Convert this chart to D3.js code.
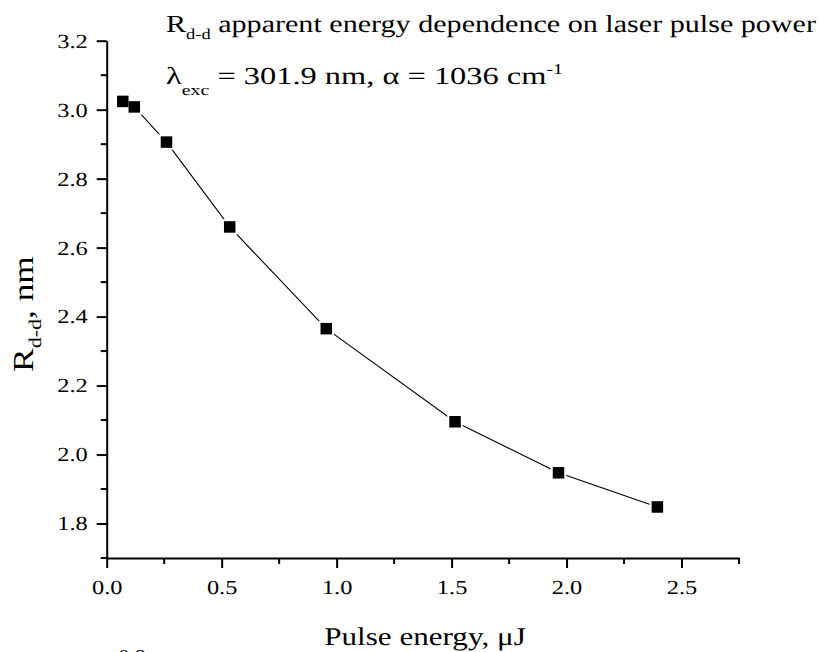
<!DOCTYPE html>
<html>
<head>
<meta charset="utf-8">
<script src="https://cdn.jsdelivr.net/npm/d3@7"></script>
<style>
  html, body { margin: 0; padding: 0; background: #fff; }
  svg { display: block; }
  svg text { font-family: 'Liberation Serif', 'Times New Roman', Times, serif !important; fill: #000; text-rendering: geometricPrecision; }
</style>
</head>
<body>
<svg id="chart" width="823" height="652" font-family="'Liberation Serif', 'Times New Roman', serif"></svg>
<script>
// Data
const pulseEnergy = [0.07, 0.12, 0.26, 0.535, 0.955, 1.515, 1.965, 2.395];
const rdd         = [3.024, 3.008, 2.906, 2.660, 2.365, 2.095, 1.947, 1.848];
const xTicks = [0.0, 0.5, 1.0, 1.5, 2.0, 2.5];
const yTicks = [1.8, 2.0, 2.2, 2.4, 2.6, 2.8, 3.0, 3.2];
const xMinorTicks = [0.25, 0.75, 1.25, 1.75, 2.25, 2.75];
const yMinorTicks = [1.7, 1.9, 2.1, 2.3, 2.5, 2.7, 2.9, 3.1];

const FONT = "'Liberation Serif', 'Times New Roman', Times, serif";
const SX = 1.22; // horizontal glyph stretch seen in the reference text

const svg = d3.select("#chart");
const x0 = 106.7, x1 = 739, yTop = 40.7, yBot = 558;
const x = d3.scaleLinear().domain([0, 2.75]).range([x0, x1]);
const y = d3.scaleLinear().domain([1.7, 3.2]).range([yBot, yTop]);

// Axes
const xAxis = d3.axisBottom(x).tickValues(xTicks).tickFormat(d3.format(".1f")).tickSize(10).tickSizeOuter(0).tickPadding(12);
const yAxis = d3.axisLeft(y).tickValues(yTicks).tickFormat(d3.format(".1f")).tickSize(10).tickSizeOuter(0).tickPadding(9);

const gx = svg.append("g").attr("transform", `translate(0,${yBot})`).call(xAxis);
const gy = svg.append("g").attr("transform", `translate(${x0},0)`).call(yAxis);

[gx, gy].forEach(g => {
  g.attr("font-family", FONT).attr("font-size", 20);
  g.select(".domain").attr("stroke", "#000").attr("stroke-width", 2);
  g.selectAll(".tick line").attr("stroke", "#000").attr("stroke-width", 2);
  g.selectAll(".tick text")
    .style("font-size", "20px")
    .style("font-family", FONT)
    .attr("fill", "#000")
    .each(function() {
      const t = d3.select(this);
      const xa = +t.attr("x") || 0;
      t.attr("x", xa / SX).attr("transform", `scale(${SX},1)`);
    });
});

// Minor ticks
svg.append("g").selectAll("line").data(xMinorTicks).join("line")
  .attr("x1", d => x(d)).attr("x2", d => x(d))
  .attr("y1", yBot).attr("y2", yBot + 6)
  .attr("stroke", "#000").attr("stroke-width", 2);
svg.append("g").selectAll("line").data(yMinorTicks).join("line")
  .attr("y1", d => y(d)).attr("y2", d => y(d))
  .attr("x1", x0).attr("x2", x0 - 6)
  .attr("stroke", "#000").attr("stroke-width", 2);

// Line
const pts = pulseEnergy.map((v, i) => [v, rdd[i]]);
svg.append("path")
  .datum(pts)
  .attr("fill", "none")
  .attr("stroke", "#000")
  .attr("stroke-width", 1.1)
  .attr("d", d3.line().x(d => x(d[0])).y(d => y(d[1])));

// Markers (white halo gives the gap around the symbols)
const ms = 11.5;
svg.append("g").selectAll("rect").data(pts).join("rect")
  .attr("x", d => x(d[0]) - ms / 2 - 2).attr("y", d => y(d[1]) - ms / 2 - 2)
  .attr("width", ms + 4).attr("height", ms + 4)
  .attr("fill", "#fff");
svg.append("g").selectAll("rect").data(pts).join("rect")
  .attr("x", d => x(d[0]) - ms / 2).attr("y", d => y(d[1]) - ms / 2)
  .attr("width", ms).attr("height", ms)
  .attr("fill", "#000");

// Fit a left-anchored text horizontally to a target width
function fitWidth(sel, tx, ty, target) {
  const w = sel.node().getBBox().width;
  const s = w > 0 ? target / w : SX;
  sel.attr("transform", `translate(${tx},${ty}) scale(${s},1)`);
}

// Titles
const t1 = svg.append("text").style("font-size", "24.5px").style("font-family", FONT);
t1.append("tspan").text("R");
t1.append("tspan").attr("dy", 7).style("font-size", "15px").text("d-d");
t1.append("tspan").attr("dy", -7).text(" apparent energy dependence on laser pulse power");
fitWidth(t1, 166, 32, 650);

const t2 = svg.append("text").style("font-size", "24.5px").style("font-family", FONT);
t2.append("tspan").text("λ");
t2.append("tspan").attr("dy", 11).style("font-size", "15px").text("exc");
t2.append("tspan").attr("dy", -11).text(" = 301.9 nm, α = 1036 cm");
t2.append("tspan").attr("dy", -10).style("font-size", "15px").text("-1");
fitWidth(t2, 166, 84, 397);

// Axis titles
svg.append("text")
  .attr("transform", `translate(425,645) scale(${SX},1)`)
  .attr("text-anchor", "middle")
  .style("font-size", "25.5px").style("font-family", FONT)
  .text("Pulse energy, μJ");

const yl = svg.append("text")
  .attr("transform", `translate(33,314) rotate(-90) scale(${SX},1)`)
  .attr("text-anchor", "middle")
  .style("font-size", "29px").style("font-family", FONT);
yl.append("tspan").text("R");
yl.append("tspan").attr("dy", 8).style("font-size", "18px").text("d-d");
yl.append("tspan").attr("dy", -8).text(", nm");

// cut-off stray label at the bottom edge
svg.append("text").attr("transform", `translate(132,662) scale(${SX},1)`).attr("text-anchor", "middle")
  .style("font-size", "18px").style("font-family", FONT).text("0.8");
</script>
</body>
</html>
